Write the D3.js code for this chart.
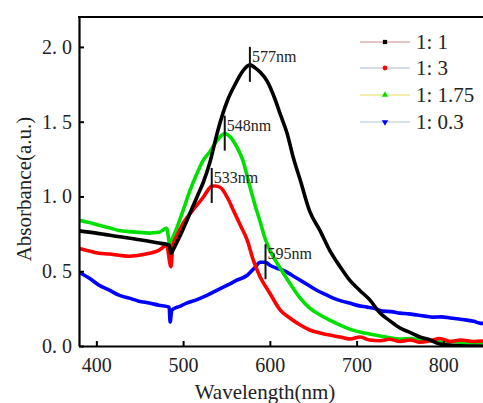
<!DOCTYPE html>
<html><head><meta charset="utf-8">
<script src="https://cdn.jsdelivr.net/npm/d3@7"></script>
<style>
html,body{margin:0;padding:0;background:#fff;}
svg{display:block;}
svg text{font-family:'Liberation Serif','Times New Roman',serif;fill:#222;}
</style></head>
<body>
<svg id="chart" width="483" height="403"></svg>
<script>
// ---- data ----
const seriesNames = ["1: 1", "1: 3", "1: 1.75", "1: 0.3"];
const seriesColors = ["#000000", "#ff0000", "#00e000", "#0000ff"];
const legendLineColors = ["#c98a8a", "#a9b9cc", "#e8dc5a", "#a9c9d6"];

const wlBlack = [380,400,427,450,470,484,486,490,496,503,511,517,523,531,540,551,560,569,577,583,589,597,606,612,620,627,635,646,658,669,681,692,704,715,727,738,750,762,773,785,796,810,830,850];
const absBlack = [0.77,0.755,0.73,0.71,0.69,0.675,0.62,0.66,0.73,0.82,0.93,1.01,1.09,1.23,1.44,1.64,1.75,1.84,1.88,1.86,1.83,1.77,1.65,1.55,1.42,1.26,1.11,0.9,0.77,0.64,0.53,0.44,0.37,0.31,0.22,0.17,0.12,0.09,0.06,0.04,0.013,0.005,0.0,0.0];

const wlRed = [380,392,403,415,426,438,449,461,472,481,486,488,494,500,511,523,531,533,537,543,551,558,566,574,581,589,600,612,623,635,646,658,669,681,692,704,715,727,738,750,762,773,785,796,808,820,835,850];
const absRed = [0.653,0.635,0.62,0.615,0.607,0.6,0.607,0.62,0.64,0.673,0.53,0.66,0.75,0.82,0.907,0.993,1.06,1.07,1.07,1.06,0.993,0.907,0.807,0.707,0.573,0.46,0.353,0.24,0.187,0.14,0.107,0.087,0.073,0.06,0.047,0.06,0.04,0.035,0.045,0.03,0.04,0.025,0.035,0.05,0.03,0.04,0.03,0.035];

const wlGreen = [380,392,403,415,426,438,449,461,472,481,485,487,493,500,508,516,523,531,539,546,548,554,562,569,576,583,589,594,600,612,623,635,646,658,669,681,692,704,715,727,738,750,762,773,785,796,810,830,850];
const absGreen = [0.84,0.825,0.807,0.79,0.773,0.765,0.76,0.755,0.76,0.787,0.673,0.707,0.793,0.907,1.04,1.153,1.24,1.3,1.373,1.415,1.42,1.4,1.33,1.24,1.087,0.94,0.827,0.727,0.64,0.52,0.42,0.32,0.253,0.207,0.173,0.14,0.113,0.093,0.08,0.067,0.055,0.047,0.05,0.04,0.035,0.027,0.03,0.02,0.025];

const wlBlue = [380,392,403,415,426,438,449,461,472,484,485,487,496,504,516,528,540,551,562,574,582,589,595,600,608,615,625,635,645,654,664,673,683,692,702,712,721,730,740,750,760,770,779,788,798,808,818,827,835,842,850];
const absBlue = [0.493,0.453,0.407,0.373,0.34,0.32,0.3,0.287,0.273,0.26,0.16,0.24,0.265,0.287,0.31,0.34,0.375,0.407,0.44,0.473,0.52,0.56,0.56,0.54,0.52,0.507,0.475,0.44,0.405,0.373,0.345,0.32,0.3,0.287,0.27,0.26,0.25,0.233,0.23,0.22,0.215,0.207,0.2,0.193,0.195,0.187,0.18,0.173,0.165,0.153,0.15];

const peakWl = [577, 548, 533, 595];
const peakAbs = [1.88, 1.42, 1.07, 0.56];
const peakLabels = ["577nm", "548nm", "533nm", "595nm"];

const xTicks = [400, 500, 600, 700, 800];
const yTicks = [0.0, 0.5, 1.0, 1.5, 2.0];
const yTickLabels = ["0. 0", "0. 5", "1. 0", "1. 5", "2. 0"];

// ---- drawing ----
const FONT = "'Liberation Serif','Times New Roman',serif";
const svg = d3.select("#chart");
const mLeft = 79, mTop = 17, mBottom = 346;
const x = d3.scaleLinear().domain([380, 850]).range([mLeft, mLeft + 470 * 0.8675]);
const y = d3.scaleLinear().domain([0, 2.2]).range([mBottom, mTop]);

svg.append("clipPath").attr("id", "clip")
  .append("rect").attr("x", mLeft).attr("y", mTop).attr("width", 500).attr("height", mBottom - mTop);

const series = [
  {wl: wlBlue, v: absBlue, c: seriesColors[3]},
  {wl: wlGreen, v: absGreen, c: seriesColors[2]},
  {wl: wlRed, v: absRed, c: seriesColors[1]},
  {wl: wlBlack, v: absBlack, c: seriesColors[0]}
];
const line = d3.line().x(d => x(d[0])).y(d => y(d[1])).curve(d3.curveMonotoneX);
const g = svg.append("g").attr("clip-path", "url(#clip)");
series.forEach(s => {
  const pts = s.wl.map((w, i) => [w, s.v[i]]);
  g.append("path").datum(pts).attr("d", line)
    .attr("fill", "none").attr("stroke", s.c).attr("stroke-width", 3.6)
    .attr("stroke-linejoin", "round").attr("stroke-linecap", "round");
});

// axes
const xAxis = d3.axisBottom(x).tickValues(xTicks).tickSizeInner(-5).tickSizeOuter(0).tickPadding(12).tickFormat(d3.format("d"));
const xg = svg.append("g").attr("transform", `translate(0,${mBottom})`).call(xAxis);
xg.attr("font-family", null);
xg.select(".domain").attr("stroke", "#000").attr("stroke-width", 2.2);
xg.selectAll(".tick line").attr("stroke", "#000").attr("stroke-width", 2);
xg.selectAll(".tick text").attr("font-size", 20).attr("fill", "#222").style("font-family", FONT);

const yAxis = d3.axisLeft(y).tickValues(yTicks).tickSizeInner(-5).tickSizeOuter(0).tickPadding(7)
  .tickFormat((d, i) => yTickLabels[i]);
const yg = svg.append("g").attr("transform", `translate(${mLeft},0)`).call(yAxis);
yg.attr("font-family", null);
yg.select(".domain").attr("stroke", "#000").attr("stroke-width", 2.2);
yg.selectAll(".tick line").attr("stroke", "#000").attr("stroke-width", 2);
yg.selectAll(".tick text").attr("font-size", 20).attr("fill", "#222").style("font-family", FONT).style("white-space", "pre");

// top border
svg.append("line").attr("x1", mLeft - 1).attr("x2", 483).attr("y1", mTop).attr("y2", mTop)
  .attr("stroke", "#000").attr("stroke-width", 2.2);

// axis titles
svg.append("text").attr("x", 265).attr("y", 399).attr("text-anchor", "middle")
  .attr("font-size", 21).style("font-family", FONT).text("Wavelength(nm)");
svg.append("text").attr("transform", "translate(31,189) rotate(-90)").attr("text-anchor", "middle")
  .attr("font-size", 21).style("font-family", FONT).text("Absorbance(a.u.)");

// peak markers
peakWl.forEach((w, i) => {
  const px = x(w), py = y(peakAbs[i]);
  svg.append("line").attr("x1", px).attr("x2", px).attr("y1", py - 18).attr("y2", py + 17)
    .attr("stroke", "#111").attr("stroke-width", 2);
  svg.append("text").attr("x", px + 2).attr("y", py - 3).attr("font-size", 16)
    .style("font-family", FONT).text(peakLabels[i]);
});

// legend
const legendY = [42, 68, 95, 122];
const lg = svg.append("g");
seriesNames.forEach((name, i) => {
  const yy = legendY[i];
  lg.append("line").attr("x1", 360).attr("x2", 410).attr("y1", yy).attr("y2", yy)
    .attr("stroke", legendLineColors[i]).attr("stroke-width", 1.2);
  const sym = [d3.symbolSquare, d3.symbolCircle, d3.symbolTriangle, d3.symbolTriangle][i];
  const rot = i === 3 ? 180 : 0;
  lg.append("path").attr("d", d3.symbol().type(sym).size(18)())
    .attr("transform", `translate(385,${yy}) rotate(${rot})`)
    .attr("fill", seriesColors[i]);
  lg.append("text").attr("x", 416).attr("y", yy + 7).attr("font-size", 21)
    .style("font-family", FONT).style("white-space", "pre").text(name);
});
</script>
</body></html>
